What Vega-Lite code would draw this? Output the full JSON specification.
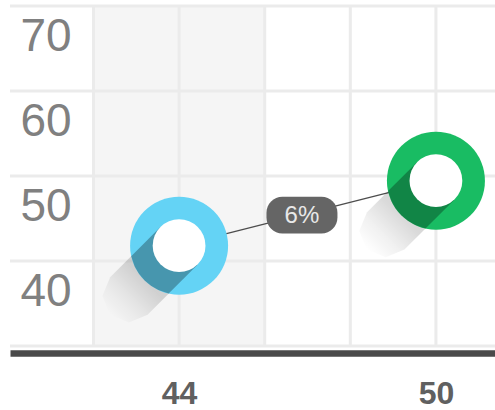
{
  "$schema": "https://vega.github.io/schema/vega-lite/v6.json",
  "width": 485,
  "height": 340,
  "autosize": {"type": "none"},
  "padding": {"left": 10, "top": 6, "right": 0, "bottom": 64},
  "background": "white",
  "config": {"view": {"stroke": null}},
  "datasets": {
    "points": [
      {"x": 44, "y": 41.8, "g": "a"},
      {"x": 50, "y": 49.45, "g": "b"}
    ],
    "band": [{"x": 42, "x2": 46, "y": 30, "y2": 70}],
    "xgrid": [{"x": 42}, {"x": 44}, {"x": 46}, {"x": 48}, {"x": 50}],
    "ygrid": [{"y": 30}, {"y": 40}, {"y": 50}, {"y": 60}, {"y": 70}],
    "label": [{"x": 46.87, "y": 45.4, "text": "6%"}]
  },
  "encoding": {
    "x": {
      "field": "x", "type": "quantitative",
      "scale": {"domain": [40.05, 51.38], "nice": false, "zero": false},
      "axis": {
        "values": [44, 50],
        "title": null,
        "ticks": false, "tickSize": 0,
        "grid": false,
        "domain": true, "domainColor": "#4a4a4a", "domainWidth": 6.5,
        "offset": 7,
        "labelPadding": 50,
        "labelBaseline": "alphabetic",
        "labelFont": "Liberation Sans", "labelFontSize": 32, "labelFontWeight": "bold",
        "labelColor": "#606060",
        "labelOverlap": false, "labelFlush": false, "labelBound": false
      }
    },
    "y": {
      "field": "y", "type": "quantitative",
      "scale": {"domain": [30, 70], "nice": false, "zero": false},
      "axis": {
        "values": [40, 50, 60, 70],
        "title": null,
        "ticks": false, "tickSize": 0,
        "grid": false,
        "domain": false,
        "labelPadding": -10,
        "labelAlign": "left",
        "labelBaseline": "alphabetic",
        "labelOffset": 44,
        "labelFont": "Liberation Sans", "labelFontSize": 46,
        "labelColor": "#808080",
        "labelOverlap": false, "labelFlush": false, "labelBound": false
      }
    }
  },
  "layer": [
    {
      "data": {"name": "band"},
      "mark": {"type": "rect", "fill": "#f5f5f5", "opacity": 1},
      "encoding": {
        "x2": {"field": "x2"},
        "y2": {"field": "y2"}
      }
    },
    {
      "data": {"name": "xgrid"},
      "mark": {"type": "rule", "color": "#ebebeb", "strokeWidth": 3},
      "encoding": {"y": null}
    },
    {
      "data": {"name": "ygrid"},
      "mark": {"type": "rule", "color": "#ebebeb", "strokeWidth": 3},
      "encoding": {"x": null}
    },
    {
      "data": {"name": "points"},
      "mark": {"type": "line", "color": "#4d4d4d", "strokeWidth": 1.3}
    },
    {
      "data": {"name": "points"},
      "mark": {
        "type": "point", "filled": true, "opacity": 1, "strokeWidth": 0, "size": 9604,
        "shape": "M0.382,0.382 L-0.643,1.407 L-1.025,1.565 L-1.407,1.407 L-1.565,1.025 L-1.407,0.643 L-0.382,-0.382 Z",
        "fill": {
          "gradient": "linear", "x1": 1, "y1": 0, "x2": 0, "y2": 1,
          "stops": [
            {"offset": 0, "color": "rgba(0,0,0,0.2)"},
            {"offset": 0.56, "color": "rgba(0,0,0,0.15)"},
            {"offset": 0.75, "color": "rgba(0,0,0,0.06)"},
            {"offset": 0.92, "color": "rgba(0,0,0,0)"}
          ]
        }
      }
    },
    {
      "data": {"name": "points"},
      "mark": {"type": "point", "shape": "circle", "filled": true, "opacity": 1, "strokeWidth": 0, "size": 9604},
      "encoding": {
        "color": {"field": "g", "type": "nominal", "legend": null, "scale": {"domain": ["a", "b"], "range": ["#64d3f5", "#19bc63"]}}
      }
    },
    {
      "data": {"name": "points"},
      "mark": {
        "type": "point", "filled": true, "fill": "#000000", "opacity": 0.29, "strokeWidth": 0, "size": 9604,
        "shape": "M0.382,0.382 L-0.213,0.977 L-0.423,0.906 L-0.574,0.819 L-0.707,0.707 L-0.819,0.574 L-0.906,0.423 L-0.977,0.213 L-0.382,-0.382 Z"
      }
    },
    {
      "data": {"name": "points"},
      "mark": {"type": "point", "shape": "circle", "filled": true, "fill": "#ffffff", "opacity": 1, "strokeWidth": 0, "size": 2788}
    },
    {
      "data": {"name": "label"},
      "mark": {
        "type": "point", "filled": true, "fill": "#656565", "opacity": 1, "strokeWidth": 0, "size": 5041,
        "shape": "M-0.55,-0.515 L0.55,-0.515 C0.799,-0.515 1,-0.314 1,-0.065 L1,0.065 C1,0.314 0.799,0.515 0.55,0.515 L-0.55,0.515 C-0.799,0.515 -1,0.314 -1,0.065 L-1,-0.065 C-1,-0.314 -0.799,-0.515 -0.55,-0.515 Z"
      }
    },
    {
      "data": {"name": "label"},
      "mark": {"type": "text", "font": "Liberation Sans", "fontSize": 24, "color": "#e8e8e8", "align": "center", "baseline": "middle", "dy": 1},
      "encoding": {
        "text": {"field": "text"}
      }
    }
  ]
}
